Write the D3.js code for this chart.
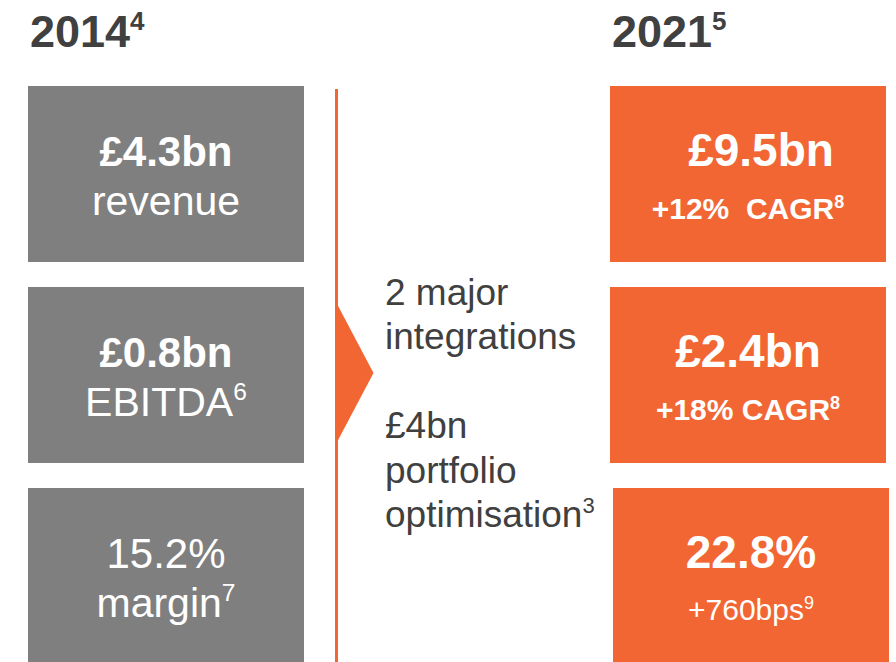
<!DOCTYPE html>
<html>
<head>
<meta charset="utf-8">
<script src="https://cdn.jsdelivr.net/npm/d3@7"></script>
<style>
  body { margin: 0; background: #fff; }
  text { font-family: "Liberation Sans", Arial, sans-serif; white-space: pre; }
</style>
</head>
<body>
<svg id="chart" width="896" height="662"></svg>
<script>
// years + footnote markers
const years = ['2014', '2021'];
const yearNotes = ['4', '5'];

// one row per metric
const metrics = ['revenue', 'EBITDA', 'margin'];

const values2014 = ['£4.3bn', '£0.8bn', '15.2%'];
const labels2014 = ['revenue', 'EBITDA', 'margin'];
const notes2014 = ['', '6', '7'];

const values2021 = ['£9.5bn', '£2.4bn', '22.8%'];
const labels2021 = ['+12%  CAGR', '+18% CAGR', '+760bps'];
const notes2021 = ['8', '8', '9'];

// bridge text in the middle
const bridgeLines = ['2 major', 'integrations', '', '£4bn', 'portfolio', 'optimisation'];
const bridgeNote = '3';

const orange = '#f26633';
const grey = '#7f7f7f';
const dark = '#404040';

const svg = d3.select('#chart');

const x = d3.scaleBand()
  .domain(years)
  .range([28, 886])
  .paddingInner(306 / 582);

const y = d3.scaleBand()
  .domain(metrics)
  .range([86, 664])
  .paddingInner(25 / 201);

// year headings
const heads = svg.selectAll('text.head')
  .data(years)
  .enter()
  .append('text')
  .attr('class', 'head')
  .attr('x', d => x(d) + 2)
  .attr('y', 47)
  .attr('fill', dark)
  .attr('font-weight', 'bold')
  .attr('font-size', 45);
heads.append('tspan').text(d => d);
heads.append('tspan')
  .attr('font-size', 26)
  .attr('dy', -17)
  .text((d, i) => yearNotes[i]);

function drawColumn(year, values, labels, notes, fill, big, small, smallBold) {
  const g = svg.append('g').attr('class', 'col-' + year);
  const rows = g.selectAll('g.row')
    .data(metrics)
    .enter()
    .append('g')
    .attr('class', 'row');

  // last 2021 box sits a few px right in the original
  const shift = i => (year === '2021' && i === 2 ? 3 : 0);

  rows.append('rect')
    .attr('x', (d, i) => x(year) + shift(i))
    .attr('y', d => y(d))
    .attr('width', x.bandwidth())
    .attr('height', y.bandwidth())
    .attr('fill', fill);

  const cx = x(year) + x.bandwidth() / 2;

  // big value; first 2021 value sits a bit right in the original
  rows.append('text')
    .attr('x', (d, i) => cx + shift(i) + (year === '2021' && i === 0 ? 13 : 0))
    .attr('y', d => y(d) + 80)
    .attr('text-anchor', 'middle')
    .attr('fill', '#fff')
    .attr('font-weight', (d, i) => (year === '2014' && i === 2) ? 'normal' : 'bold')
    .attr('font-size', big)
    .text((d, i) => values[i]);

  const sub = rows.append('text')
    .attr('x', (d, i) => cx + shift(i))
    .attr('y', (d, i) => y(d) + (year === '2014' ? 129 : (i === 2 ? 132 : 133)))
    .attr('text-anchor', 'middle')
    .attr('fill', '#fff')
    .attr('font-weight', (d, i) => (smallBold && i < 2) ? 'bold' : 'normal')
    .attr('font-size', small);
  sub.append('tspan').text((d, i) => labels[i]);
  sub.append('tspan')
    .attr('font-size', small * 0.6)
    .attr('dy', -small * 0.38)
    .text((d, i) => notes[i]);
}

drawColumn('2014', values2014, labels2014, notes2014, grey, 42, 41, false);
drawColumn('2021', values2021, labels2021, notes2021, orange, 46, 30, true);

// divider line with arrow head at the middle row
const lineX = 336.5;
svg.append('line')
  .attr('x1', lineX).attr('x2', lineX)
  .attr('y1', 89).attr('y2', 662)
  .attr('stroke', orange)
  .attr('stroke-width', 3);

const midY = y('EBITDA') + y.bandwidth() / 2 - 2;
svg.append('path')
  .attr('d', d3.line()([[lineX, midY - 70], [lineX + 37, midY], [lineX, midY + 70]]) + 'Z')
  .attr('fill', orange);

// bridge text
const bridge = svg.append('g').attr('class', 'bridge');
bridge.selectAll('text')
  .data(bridgeLines)
  .enter()
  .append('text')
  .attr('x', 385)
  .attr('y', (d, i) => 305 + i * 44.4)
  .attr('fill', dark)
  .attr('font-size', 37)
  .each(function (d, i) {
    const t = d3.select(this);
    t.append('tspan').text(d);
    if (i === bridgeLines.length - 1) {
      t.append('tspan')
        .attr('font-size', 22)
        .attr('dy', -14)
        .text(bridgeNote);
    }
  });
</script>
</body>
</html>
